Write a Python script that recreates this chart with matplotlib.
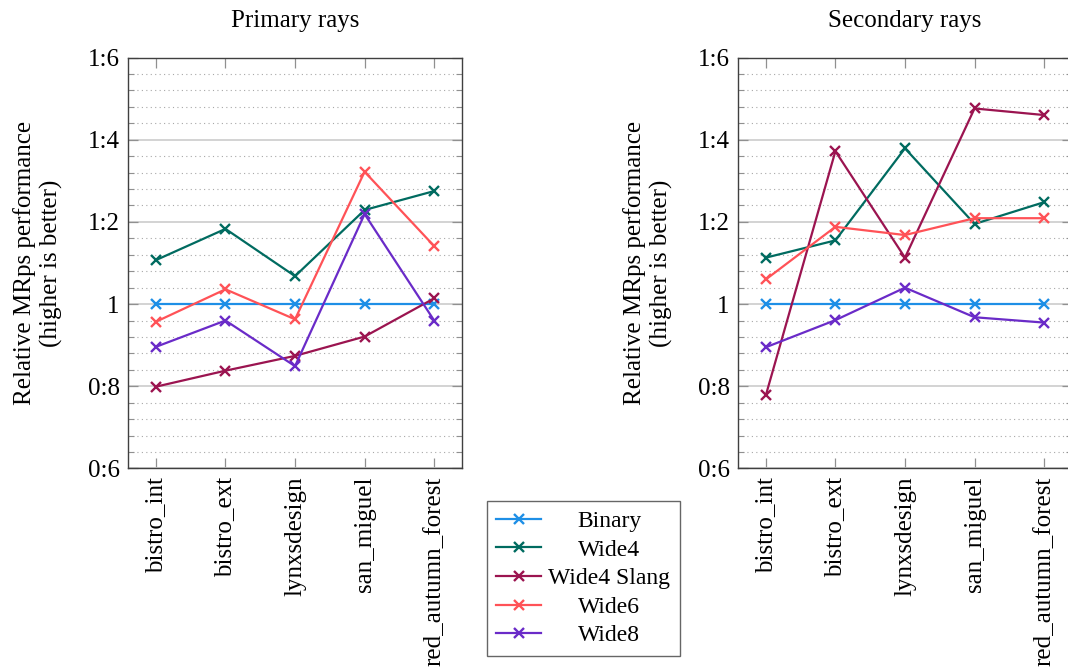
import matplotlib.pyplot as plt
from matplotlib.ticker import MultipleLocator
from matplotlib.transforms import Affine2D

plt.rcParams['font.family'] = ['Liberation Serif', 'DejaVu Serif']

scenes = ['bistro_int', 'bistro_ext', 'lynxsdesign', 'san_miguel', 'red_autumn_forest']
series = ['Binary', 'Wide4', 'Wide4 Slang', 'Wide6', 'Wide8']
colors = ['#1e8fe6', '#006b60', '#9b1450', '#ff5257', '#6a2bc8']

# relative MRps performance, primary rays
primary_binary = [1.0, 1.0, 1.0, 1.0, 1.0]
primary_wide4 = [1.107, 1.183, 1.068, 1.229, 1.275]
primary_wide4_slang = [0.799, 0.838, 0.874, 0.921, 1.014]
primary_wide6 = [0.957, 1.036, 0.963, 1.322, 1.141]
primary_wide8 = [0.896, 0.960, 0.849, 1.219, 0.960]

# relative MRps performance, secondary rays
secondary_binary = [1.0, 1.0, 1.0, 1.0, 1.0]
secondary_wide4 = [1.113, 1.155, 1.379, 1.195, 1.248]
secondary_wide4_slang = [0.778, 1.372, 1.113, 1.476, 1.460]
secondary_wide6 = [1.060, 1.188, 1.168, 1.209, 1.209]
secondary_wide8 = [0.895, 0.961, 1.040, 0.968, 0.955]

ytick_values = [0.6, 0.8, 1.0, 1.2, 1.4, 1.6]
ytick_labels = ['0:6', '0:8', '1', '1:2', '1:4', '1:6']

primary = [primary_binary, primary_wide4, primary_wide4_slang, primary_wide6, primary_wide8]
secondary = [secondary_binary, secondary_wide4, secondary_wide4_slang, secondary_wide6, secondary_wide8]

fig = plt.figure(figsize=(10.68, 6.71), dpi=100)
ax1 = fig.add_axes([0.1199, 0.3018, 0.3127, 0.6125])
ax2 = fig.add_axes([0.6910, 0.3018, 0.3127, 0.6125])

x = list(range(len(scenes)))
for ax, data, title in [(ax1, primary, 'Primary rays'), (ax2, secondary, 'Secondary rays')]:
    for vals, name, c in zip(data, series, colors):
        ax.plot(x, vals, color=c, lw=1.6, marker='x', ms=7, mew=1.7, label=name)
    ax.set_xlim(-0.4, 4.4)
    ax.set_ylim(0.6, 1.6)
    ax.set_xticks(x)
    ax.set_xticklabels(scenes, rotation=90, fontsize=18)
    ax.set_yticks(ytick_values)
    ax.set_yticklabels(ytick_labels, fontsize=18)
    ax.yaxis.set_minor_locator(MultipleLocator(0.04))
    ax.grid(True, which='major', axis='y', color='#d0d0d0', lw=1.3)
    ax.grid(True, which='minor', axis='y', color='#a8a8a8', lw=0.8, ls=(0, (1, 3)))
    ax.set_axisbelow(True)
    ax.tick_params(which='both', direction='in', top=True, right=True, color='#909090')
    ax.tick_params(which='major', length=7, width=0.9, pad=6)
    ax.tick_params(which='minor', length=4.5, width=0.8)
    ax.tick_params(axis='x', which='minor', top=False, bottom=False)
    for s in ax.spines.values():
        s.set_color('#404040')
        s.set_linewidth(1.0)
    ax.set_title(title, fontsize=18, pad=22)
    ax.set_ylabel('Relative MRps performance\n(higher is better)', fontsize=18, labelpad=18)

handles, labels = ax1.get_legend_handles_labels()
leg = fig.legend(handles, labels, loc='upper left', bbox_to_anchor=(487 / 1068, 1 - 501 / 671),
                 fontsize=17, frameon=True, fancybox=False, edgecolor='#404040',
                 handlelength=1.9, borderpad=0.4, labelspacing=0.3, handletextpad=0.3,
                 borderaxespad=0)
leg.get_frame().set_linewidth(1.0)

# centre the legend labels like pgfplots does
renderer = fig.canvas.get_renderer()
widths = [t.get_window_extent(renderer).width for t in leg.get_texts()]
wmax = max(widths)
for t, w in zip(leg.get_texts(), widths):
    t.set_transform(t.get_transform() + Affine2D().translate((wmax - w) / 2, 0))

fig.savefig('out.png', dpi=100)
